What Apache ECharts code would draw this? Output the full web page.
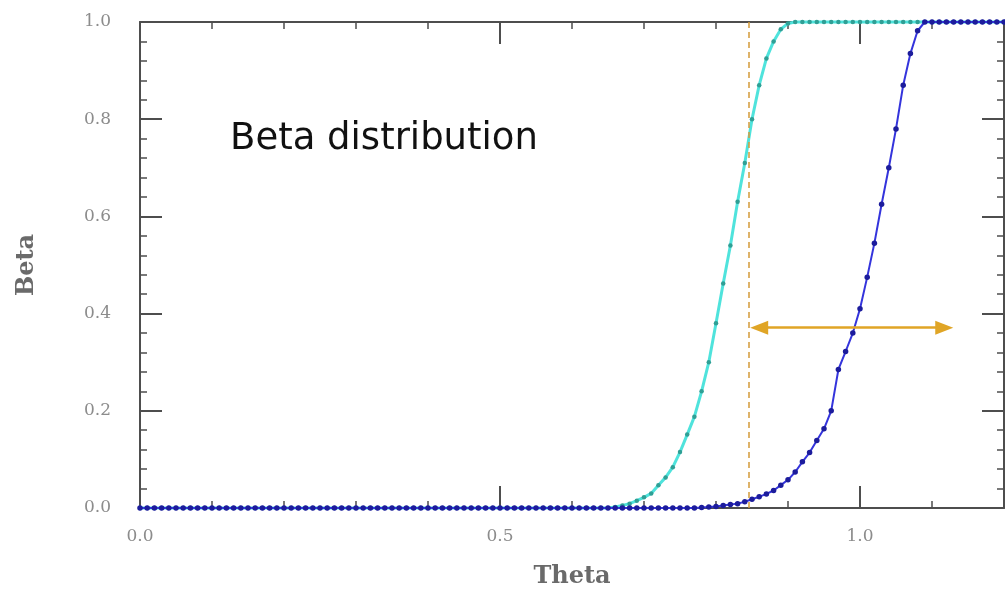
<!DOCTYPE html>
<html><head><meta charset="utf-8">
<script src="https://cdn.jsdelivr.net/npm/echarts@6/dist/echarts.min.js"></script>
<style>html,body{margin:0;padding:0;background:#fff}#c{width:1005px;height:592px}</style>
</head><body><div id="c"></div>
<script>
// ---- data ----
const theta = [
  0.00,0.01,0.02,0.03,0.04,0.05,0.06,0.07,0.08,0.09,
  0.10,0.11,0.12,0.13,0.14,0.15,0.16,0.17,0.18,0.19,
  0.20,0.21,0.22,0.23,0.24,0.25,0.26,0.27,0.28,0.29,
  0.30,0.31,0.32,0.33,0.34,0.35,0.36,0.37,0.38,0.39,
  0.40,0.41,0.42,0.43,0.44,0.45,0.46,0.47,0.48,0.49,
  0.50,0.51,0.52,0.53,0.54,0.55,0.56,0.57,0.58,0.59,
  0.60,0.61,0.62,0.63,0.64,0.65,0.66,0.67,0.68,0.69,
  0.70,0.71,0.72,0.73,0.74,0.75,0.76,0.77,0.78,0.79,
  0.80,0.81,0.82,0.83,0.84,0.85,0.86,0.87,0.88,0.89,
  0.90,0.91,0.92,0.93,0.94,0.95,0.96,0.97,0.98,0.99,
  1.00,1.01,1.02,1.03,1.04,1.05,1.06,1.07,1.08,1.09,
  1.10,1.11,1.12,1.13,1.14,1.15,1.16,1.17,1.18,1.19,
  1.20
];
const betaCyan = [
  0,0,0,0,0,0,0,0,0,0,
  0,0,0,0,0,0,0,0,0,0,
  0,0,0,0,0,0,0,0,0,0,
  0,0,0,0,0,0,0,0,0,0,
  0,0,0,0,0,0,0,0,0,0,
  0,0,0,0,0,0,0,0,0,0,
  0,0,0,0,0,0,0.002,0.005,0.009,0.015,
  0.022,0.030,0.047,0.063,0.084,0.115,0.151,0.188,0.240,0.300,
  0.380,0.462,0.540,0.630,0.710,0.800,0.870,0.925,0.960,0.985,
  0.997,1,1,1,1,1,1,1,1,1,
  1,1,1,1,1,1,1,1,1,1,
  1,1,1,1,1,1,1,1,1,1,
  1
];
const betaBlue = [
  0,0,0,0,0,0,0,0,0,0,
  0,0,0,0,0,0,0,0,0,0,
  0,0,0,0,0,0,0,0,0,0,
  0,0,0,0,0,0,0,0,0,0,
  0,0,0,0,0,0,0,0,0,0,
  0,0,0,0,0,0,0,0,0,0,
  0,0,0,0,0,0,0,0,0,0,
  0,0,0,0,0,0,0,0,0.001,0.002,
  0.003,0.005,0.007,0.009,0.013,0.018,0.023,0.029,0.036,0.047,
  0.058,0.074,0.095,0.114,0.139,0.163,0.200,0.285,0.322,0.360,
  0.410,0.475,0.545,0.625,0.700,0.780,0.870,0.935,0.982,1,
  1,1,1,1,1,1,1,1,1,1,
  1
];
const xTickValues = [0, 0.5, 1.0];
const xTickLabels = ['0.0', '0.5', '1.0'];
const yTickLabels = ['0.0', '0.2', '0.4', '0.6', '0.8', '1.0'];
const thetaCut = 0.846;
const arrowEnds = [0.860, 1.117];
const arrowLevel = 0.371;
const annotation = 'Beta distribution';
const xName = 'Theta';
const yName = 'Beta';

// ---- chart ----
const axisColor = '#4e4e4e';
const labelStyle = {color: '#8c8c8c', fontFamily: 'DejaVu Serif', fontSize: 17};
const nameStyle = {fontFamily: 'DejaVu Serif', fontWeight: 'bold', fontSize: 24, color: '#6a6a6a'};

function xAx(pos, interval, len, showLine, showLabel) {
  return {
    type: 'value', position: pos, min: 0, max: 1.2, interval: interval,
    axisLine: {show: showLine, onZero: false, lineStyle: {color: axisColor, width: 2}},
    axisTick: {show: true, inside: true, length: len, lineStyle: {color: axisColor, width: len > 10 ? 2 : 1.5}},
    splitLine: {show: false},
    axisLabel: showLabel ? Object.assign({
      margin: 20, showMaxLabel: false,
      formatter: function (v) {
        for (let i = 0; i < xTickValues.length; i++) {
          if (Math.abs(v - xTickValues[i]) < 1e-6) return xTickLabels[i];
        }
        return '';
      }
    }, labelStyle) : {show: false}
  };
}
function yAx(pos, showLabel) {
  return {
    type: 'value', position: pos, min: 0, max: 1, interval: 0.2,
    axisLine: {show: true, onZero: false, lineStyle: {color: axisColor, width: 2}},
    axisTick: {show: true, inside: true, length: 22, lineStyle: {color: axisColor, width: 2}},
    minorTick: {show: true, splitNumber: 5, length: 7, lineStyle: {color: axisColor, width: 1.5}},
    splitLine: {show: false}, minorSplitLine: {show: false},
    axisLabel: showLabel ? Object.assign({
      margin: 29,
      formatter: function (v) { return yTickLabels[Math.round(v / 0.2)]; }
    }, labelStyle) : {show: false}
  };
}

const xa0 = xAx('bottom', 0.1, 7, true, true);
xa0.name = xName; xa0.nameLocation = 'middle'; xa0.nameGap = 57; xa0.nameTextStyle = nameStyle;
const ya0 = yAx('left', true);
ya0.name = yName; ya0.nameLocation = 'middle'; ya0.nameGap = 101; ya0.nameRotate = 90; ya0.nameTextStyle = nameStyle;

const chart = echarts.init(document.getElementById('c'), null, {renderer: 'canvas'});
chart.setOption({
  animation: false,
  backgroundColor: '#ffffff',
  grid: {left: 140, right: 1, top: 22, bottom: 84, containLabel: false, outerBoundsMode: 'none'},
  xAxis: [xa0, xAx('bottom', 0.5, 22, false, false), xAx('top', 0.1, 7, true, false), xAx('top', 0.5, 22, false, false)],
  yAxis: [ya0, yAx('right', false)],
  graphic: [{
    type: 'text', left: 230, top: 121,
    style: {text: annotation, fontFamily: 'DejaVu Sans', fontSize: 37, fill: '#111'}
  }],
  series: [
    {
      type: 'line', xAxisIndex: 0, yAxisIndex: 0, clip: false,
      data: theta.map((t, i) => [t, betaCyan[i]]),
      showSymbol: true, showAllSymbol: true, symbol: 'circle', symbolSize: 4.5,
      lineStyle: {color: '#4fe3dc', width: 3},
      itemStyle: {color: '#2f9f95'},
      markLine: {
        silent: true, symbol: ['none', 'none'], label: {show: false},
        lineStyle: {color: '#d49a3a', type: [6, 4], width: 1.5},
        data: [[{coord: [thetaCut, 0]}, {coord: [thetaCut, 1]}]]
      }
    },
    {
      type: 'line', xAxisIndex: 0, yAxisIndex: 0, clip: false,
      data: theta.map((t, i) => [t, betaBlue[i]]),
      showSymbol: true, showAllSymbol: true, symbol: 'circle', symbolSize: 5.5,
      lineStyle: {color: '#3434dc', width: 2},
      itemStyle: {color: '#1c1c9c'},
      markLine: {
        silent: true, symbol: ['triangle', 'triangle'], symbolSize: [14, 18], label: {show: false},
        lineStyle: {color: '#e0a526', width: 2.5, type: 'solid'},
        itemStyle: {color: '#e0a526'},
        data: [[{coord: [arrowEnds[0], arrowLevel]}, {coord: [arrowEnds[1], arrowLevel]}]]
      }
    }
  ]
});
</script>
</body></html>
